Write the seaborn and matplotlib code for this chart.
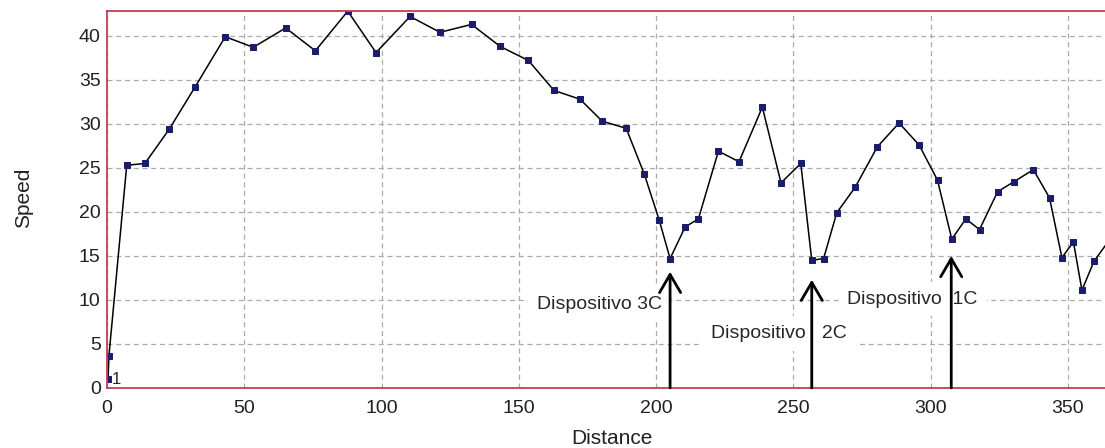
"""
Speed profile along the road with the three speed-reduction devices marked.
"""

import matplotlib
matplotlib.use("Agg")
import matplotlib.pyplot as plt
import pandas as pd
import seaborn as sns


# Speed readings along the section (distance in m, speed in km/h)
distance = [0.4, 0.7, 7.2, 13.8, 22.7, 32.1, 43.1, 53.3, 65.1, 75.9, 87.7, 98.0,
            110.4, 121.3, 132.8, 143.2, 153.5, 162.8, 172.3, 180.4, 189.1, 195.7,
            201.1, 205.1, 210.6, 215.4, 222.7, 230.2, 238.7, 245.5, 252.7, 256.7,
            261.0, 265.8, 272.5, 280.6, 288.5, 295.8, 302.5, 307.7, 312.8, 317.8,
            324.4, 330.2, 337.4, 343.3, 347.8, 352.0, 355.1, 359.5, 366.0]
speed = [1.0, 3.6, 25.3, 25.5, 29.4, 34.2, 39.9, 38.7, 40.9, 38.3, 42.8, 38.1,
         42.2, 40.4, 41.3, 38.8, 37.2, 33.8, 32.8, 30.3, 29.5, 24.3,
         19.1, 14.7, 18.3, 19.2, 26.9, 25.7, 31.9, 23.3, 25.5, 14.5,
         14.7, 19.9, 22.8, 27.4, 30.1, 27.6, 23.6, 16.9, 19.2, 18.0,
         22.3, 23.4, 24.8, 21.6, 14.8, 16.6, 11.1, 14.4, 17.2]

# Devices: where the arrow stands and the speed its tip points at
device_x = [205.1, 256.7, 307.5]
device_tip = [13.2, 12.3, 15.0]
device_labels = ["Dispositivo 3C", "Dispositivo   2C", "Dispositivo  1C"]
x_ticks = [0, 50, 100, 150, 200, 250, 300, 350]
y_ticks = [0, 5, 10, 15, 20, 25, 30, 35, 40]

df = pd.DataFrame({"distance": distance, "speed": speed})

sns.set_style("white")
plt.rcParams["font.family"] = ["Liberation Sans", "DejaVu Sans"]

fig = plt.figure(figsize=(11.05, 4.48), dpi=100)
ax = fig.add_axes([0.0968, 0.134, 0.9032, 0.841])

sns.lineplot(data=df, x="distance", y="speed", sort=False, ax=ax,
             color="black", linewidth=1.1, marker="s", markersize=4,
             markerfacecolor="#1c1c6c", markeredgecolor="#1c1c6c")

ax.set_xlim(0, 363.5)
ax.set_ylim(0, 42.8)
ax.set_xticks(x_ticks)
ax.set_yticks(y_ticks)
ax.grid(True, color="#ababab", linestyle=(0, (4, 3)), linewidth=0.9)
ax.set_axisbelow(True)

for side in ["left", "bottom", "top"]:
    ax.spines[side].set_color("#c04050")
    ax.spines[side].set_linewidth(1.3)
ax.spines["right"].set_visible(False)

ax.tick_params(axis="both", direction="out", length=3.5, width=0.8,
               color="#404040", labelsize=14, labelcolor="#202020")
ax.tick_params(axis="y", pad=1)
ax.tick_params(axis="x", pad=5)

ax.set_xlabel("Distance", fontsize=15, color="#202020")
ax.set_ylabel("Speed", fontsize=15, color="#202020")
ax.xaxis.set_label_coords(0.506, -0.108)
ax.yaxis.set_label_coords(-0.074, 0.505)

# point label next to the first reading
ax.text(distance[0] + 1.5, speed[0], "1", fontsize=12, va="center", ha="left")

# label boxes sit on the grid, the arrows are drawn over them
label_pos = [(202.1, 9.5, "right"), (220.0, 6.2, "left"), (269.7, 10.1, "left")]
for (tx, ty, ha), label in zip(label_pos, device_labels):
    ax.text(tx, ty, label, fontsize=14, ha=ha, va="center", zorder=4,
            bbox=dict(boxstyle="square,pad=0.45", facecolor="white",
                      edgecolor="none"))

for x, tip in zip(device_x, device_tip):
    ax.annotate("", xy=(x, tip), xytext=(x, 0), zorder=5,
                arrowprops=dict(arrowstyle="->,head_length=0.65,head_width=0.38",
                                lw=2, color="black", mutation_scale=20,
                                shrinkA=0, shrinkB=0))

fig.savefig("out.png", dpi=100)
plt.close(fig)
